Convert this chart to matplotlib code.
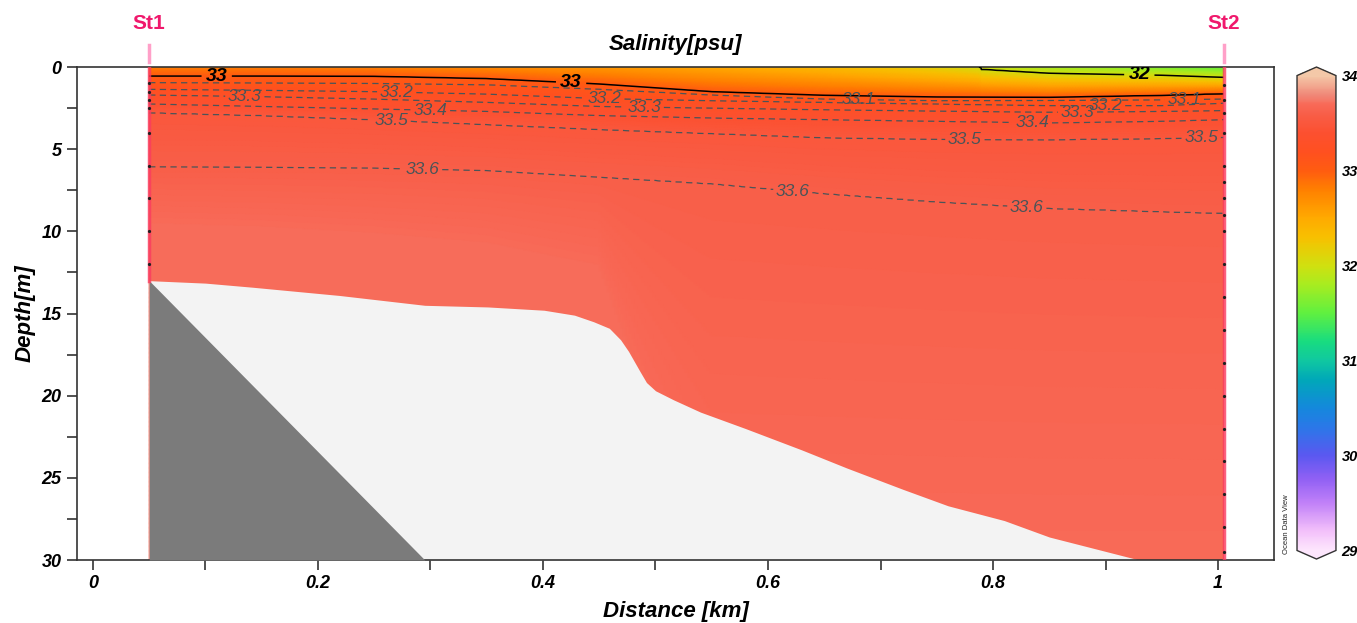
import numpy as np
import matplotlib
matplotlib.use("Agg")
import matplotlib.pyplot as plt
from matplotlib.colors import LinearSegmentedColormap

plt.rcParams['font.family'] = ['Liberation Sans', 'DejaVu Sans']

dist_km = [0.05, 0.15, 0.25, 0.35, 0.45, 0.55, 0.65, 0.75, 0.85, 0.95, 1.005]
surf_sal = [32.8, 32.8, 32.78, 32.72, 32.62, 32.5, 32.35, 32.12, 31.8, 31.6, 31.5]

# depth (m) of each isohaline at dist_km, 0 = isohaline absent
iso_levels = [32, 33, 33.1, 33.2, 33.3, 33.4, 33.5, 33.6]
iso_depth = {
    32:   [0, 0, 0, 0, 0, 0, 0, 0, 0.38, 0.5, 0.63],
    33:   [0.55, 0.55, 0.56, 0.7, 1.03, 1.5, 1.72, 1.82, 1.84, 1.72, 1.62],
    33.1: [0.95, 0.97, 1.0, 1.08, 1.35, 1.7, 1.95, 2.05, 2.03, 2.0, 1.95],
    33.2: [1.36, 1.42, 1.5, 1.65, 1.92, 2.05, 2.15, 2.25, 2.35, 2.35, 2.2],
    33.3: [1.7, 1.8, 1.95, 2.15, 2.4, 2.5, 2.6, 2.68, 2.75, 2.7, 2.65],
    33.4: [2.25, 2.4, 2.55, 2.7, 2.95, 3.1, 3.2, 3.3, 3.4, 3.3, 3.2],
    33.5: [2.78, 2.95, 3.2, 3.5, 3.8, 4.05, 4.3, 4.4, 4.42, 4.35, 4.27],
    33.6: [6.07, 6.1, 6.15, 6.3, 6.7, 7.1, 7.7, 8.2, 8.6, 8.8, 8.9],
}
# saltier lens near the bottom at St1 (top of the 33.7 water, deeper = absent)
lens_top = [9.6, 9.8, 10.2, 10.8, 12.2, 31, 31, 31, 31, 31, 31]
bottom_sal = [33.72, 33.72, 33.72, 33.72, 33.72, 33.7, 33.7, 33.7, 33.7, 33.7, 33.7]

# lower edge of the gridded data and bottom topography
edge_km = [0.05, 0.1, 0.142, 0.219, 0.295, 0.351, 0.401, 0.428, 0.445, 0.459, 0.469,
           0.476, 0.486, 0.492, 0.5, 0.516, 0.54, 0.58, 0.63, 0.67, 0.72, 0.76, 0.81,
           0.85, 0.89, 0.93]
edge_depth = [13.0, 13.15, 13.4, 13.9, 14.5, 14.6, 14.8, 15.1, 15.5, 15.9, 16.6,
              17.3, 18.5, 19.2, 19.7, 20.25, 21.0, 22.0, 23.3, 24.4, 25.7, 26.7, 27.6,
              28.6, 29.3, 30.0]
bottom_km = [0.05, 0.295]
bottom_depth = [13.0, 30.0]

stations = ['St1', 'St2']
station_km = [0.05, 1.005]
st1_samples = [1, 1.5, 2, 2.5, 4, 6, 8, 10, 12]
st2_samples = [1.1, 2, 2.8, 4, 6, 7, 8, 9, 10, 12, 14, 16, 18, 20, 22, 24, 26, 28, 29.5]

# ODV-like colour scale
cb_vals = [29.0, 29.2, 29.5, 29.75, 30.0, 30.3, 30.5, 30.8, 31.0, 31.2, 31.5, 31.8,
           32.0, 32.3, 32.5, 32.8, 33.0, 33.2, 33.4, 33.6, 33.7, 33.8, 34.0]
cb_cols = ['#fde6fd', '#f3c0fa', '#c080f8', '#9060f4', '#5a58f0', '#2a78e8', '#1488dc',
           '#00a8b8', '#10c8a0', '#18dc80', '#60f040', '#a8ec20', '#d0e010', '#f8c000',
           '#ffaa00', '#ff8000', '#ff5c10', '#ff5020', '#fc5030', '#f85e48', '#f86a58',
           '#f08878', '#f4c8a8']
cmap = LinearSegmentedColormap.from_list(
    'odv', [((v - 29) / 5, c) for v, c in zip(cb_vals, cb_cols)], N=512)
cmap.set_under(cb_cols[0])
cmap.set_over(cb_cols[-1])

# build the gridded field: isohaline depths along x, profile per column
xg = np.linspace(station_km[0], station_km[1], 400)
dg = np.linspace(0, 30, 601)
surf_g = np.interp(xg, dist_km, surf_sal)
lens_g = np.interp(xg, dist_km, lens_top)
bot_g = np.interp(xg, dist_km, bottom_sal)
iso_g = {lev: np.interp(xg, dist_km, iso_depth[lev]) for lev in iso_levels}
S = np.zeros((len(dg), len(xg)))
for j, x in enumerate(xg):
    kd = [0.0]
    kv = [surf_g[j]]
    if surf_g[j] < 32 and iso_g[32][j] > 0:
        kd.append(iso_g[32][j])
        kv.append(32)
    for lev in iso_levels[1:]:
        kd.append(iso_g[lev][j])
        kv.append(lev)
    kd += [lens_g[j], 32.0]
    kv += [33.7, bot_g[j]]
    S[:, j] = np.interp(dg, kd, kv)

fig = plt.figure(figsize=(13.57, 6.23), dpi=100)
ax = fig.add_axes([0.0567, 0.1011, 0.8822, 0.7913])

mesh = ax.pcolormesh(xg, dg, S, cmap=cmap, vmin=29, vmax=34, shading='gouraud', zorder=1)

# masked area and topography
ax.fill_between(edge_km, edge_depth, 30, color='#f3f3f3', lw=0, zorder=2)
ax.fill_between(bottom_km, bottom_depth, 30, color='#7b7b7b', lw=0, zorder=3)

# contours
solid_spots = {33: [(0.11, 0.55), (0.425, 0.95)], 32: [(0.93, 0.55)]}
dashed_spots = {
    33.1: [(0.68, 1.98), (0.97, 1.98)],
    33.2: [(0.27, 1.5), (0.455, 1.92), (0.9, 2.38)],
    33.3: [(0.135, 1.8), (0.49, 2.45), (0.875, 2.74)],
    33.4: [(0.3, 2.62), (0.835, 3.4)],
    33.5: [(0.265, 3.3), (0.775, 4.4), (0.985, 4.3)],
    33.6: [(0.293, 6.2), (0.622, 7.6), (0.83, 8.6)],
}
for lev, spots in solid_spots.items():
    cs = ax.contour(xg, dg, S, levels=[lev], colors='black', linewidths=1.1, zorder=4)
    txts = ax.clabel(cs, manual=spots, fmt='%g', fontsize=14, inline=True, inline_spacing=6)
    for t in txts:
        t.set_fontweight('bold')
        t.set_fontstyle('italic')
        t.set_rotation(0)
for lev, spots in dashed_spots.items():
    cs = ax.contour(xg, dg, S, levels=[lev], colors='#4a5458', linewidths=0.9,
                    linestyles=[(0, (5, 3.5))], zorder=4)
    txts = ax.clabel(cs, manual=spots, fmt='%g', fontsize=12.5, inline=True, inline_spacing=5)
    for t in txts:
        t.set_fontstyle('italic')
        t.set_rotation(0)

# station columns and sample dots
ax.plot([station_km[0]] * 2, [0, 13], color='#fa3c60', lw=2.5, alpha=0.8, zorder=5)
ax.plot([station_km[1]] * 2, [0, 30], color='#fa3c60', lw=2.5, alpha=0.8, zorder=5)
ax.plot([station_km[0]] * len(st1_samples), st1_samples, 'o', color='#202020', ms=1.3, zorder=6)
ax.plot([station_km[1]] * len(st2_samples), st2_samples, 'o', color='#202020', ms=1.3, zorder=6)
for name, xs in zip(stations, station_km):
    ax.plot([xs, xs], [-1.35, -0.3], color='#ffa0c8', lw=2.5, clip_on=False, zorder=6)
    ax.text(xs, -2.65, name, color='#f0186c', fontsize=15, fontweight='bold',
            ha='center', va='center', clip_on=False)

ax.set_xlim(-0.0142, 1.0498)
ax.set_ylim(30, 0)
ax.set_xticks([0, 0.2, 0.4, 0.6, 0.8, 1.0])
ax.set_xticklabels(['0', '0.2', '0.4', '0.6', '0.8', '1'])
ax.set_xticks([0.1, 0.3, 0.5, 0.7, 0.9], minor=True)
ax.set_yticks([0, 5, 10, 15, 20, 25, 30])
ax.set_yticks([2.5, 7.5, 12.5, 17.5, 22.5, 27.5], minor=True)
ax.tick_params(which='both', length=7, width=1.1, color='#222222', direction='out', pad=4)
for lab in ax.get_xticklabels() + ax.get_yticklabels():
    lab.set_fontsize(13)
    lab.set_fontweight('bold')
    lab.set_fontstyle('italic')
for sp in ax.spines.values():
    sp.set_color('#333333')
    sp.set_linewidth(1.2)

ax.set_title('Salinity[psu]', fontsize=16, fontweight='bold', fontstyle='italic', pad=12)
ax.set_xlabel('Distance [km]', fontsize=16, fontweight='bold', fontstyle='italic', labelpad=6)
ax.set_ylabel('Depth[m]', fontsize=16, fontweight='bold', fontstyle='italic', labelpad=4)

# colour bar
cax = fig.add_axes([0.9558, 0.1027, 0.0287, 0.7897])
cb = fig.colorbar(mesh, cax=cax, extend='both', extendfrac=0.018)
cb.set_ticks([29, 30, 31, 32, 33, 34])
cb.outline.set_edgecolor('#333333')
cb.outline.set_linewidth(1.0)
cax.tick_params(length=0, pad=4)
for lab in cax.get_yticklabels():
    lab.set_fontsize(10.5)
    lab.set_fontweight('bold')
    lab.set_fontstyle('italic')
fig.text(0.9484, 0.11, 'Ocean Data View', rotation=90, fontsize=5.5,
         ha='center', va='bottom', color='#222222')

fig.savefig('out.png', dpi=100)
